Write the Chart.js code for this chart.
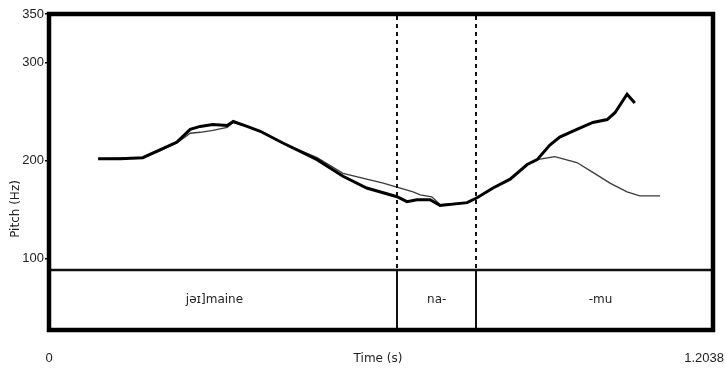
<!DOCTYPE html>
<html>
<head>
<meta charset="utf-8">
<script src="https://cdn.jsdelivr.net/npm/chart.js@4/dist/chart.umd.min.js"></script>
<style>
  html, body { margin: 0; padding: 0; background: #fff; }
  #wrap { width: 726px; height: 370px; }
</style>
</head>
<body>
<div id="wrap"><canvas id="chart" width="726" height="370"></canvas></div>
<script>
// pitch tracks, time in seconds / pitch in Hz
const thickTime = [0.089, 0.129, 0.170, 0.201, 0.232, 0.256, 0.274, 0.297, 0.323, 0.334, 0.359, 0.383, 0.424, 0.486, 0.533, 0.576, 0.631, 0.649, 0.667, 0.691, 0.709, 0.758, 0.776, 0.805, 0.836, 0.867, 0.885, 0.908, 0.926, 0.957, 0.986, 1.012, 1.026, 1.048, 1.062]
const thickPitch = [202, 202, 203, 211, 219, 232, 235, 237, 236, 240, 235, 230, 218, 201, 184, 172, 163, 158, 160, 160, 154, 157, 162, 172, 181, 196, 201, 216, 224, 232, 239, 242, 249, 268, 259]

const thinTime = [0.089, 0.170, 0.201, 0.232, 0.256, 0.274, 0.297, 0.323, 0.334, 0.359, 0.383, 0.424, 0.486, 0.533, 0.606, 0.660, 0.673, 0.694, 0.709, 0.758, 0.776, 0.805, 0.836, 0.867, 0.885, 0.917, 0.957, 0.986, 1.017, 1.048, 1.071, 1.108]
const thinPitch = [202, 203, 210, 218, 228, 229, 231, 234, 239, 235, 230, 218, 203, 187, 177, 168, 165, 163, 155, 157, 162, 172, 181, 196, 201, 204, 198, 188, 177, 168, 164, 164]

// annotation tier
const tierBounds = [0.631, 0.774]
const tierLabels = ['jəɪ]maine', 'na-', '-mu']
const tierCenters = [0.30, 0.703, 1.0]

const yTicks = [100, 200, 300, 350]
const xTicks = [0, 1.2038]
const tierLineHz = 88

const toPoints = (xs, ys) => xs.map((x, i) => ({x: x, y: ys[i]}))

const framePlugin = {
  id: 'frame',
  afterDatasetsDraw (chart) {
    const ctx = chart.ctx
    const a = chart.chartArea
    const xs = chart.scales.x
    const ys = chart.scales.y
    const tierY = ys.getPixelForValue(tierLineHz)
    ctx.save()

    // boundaries: dashed in pitch panel, solid in tier
    ctx.strokeStyle = '#111'
    ctx.lineWidth = 2
    tierBounds.forEach((t) => {
      const px = Math.round(xs.getPixelForValue(t))
      ctx.setLineDash([4, 4])
      ctx.beginPath()
      ctx.moveTo(px, a.top + 2)
      ctx.lineTo(px, tierY)
      ctx.stroke()
      ctx.setLineDash([])
      ctx.beginPath()
      ctx.moveTo(px, tierY)
      ctx.lineTo(px, a.bottom)
      ctx.stroke()
    })

    // tier separator
    ctx.lineWidth = 2.5
    ctx.beginPath()
    ctx.moveTo(a.left, tierY)
    ctx.lineTo(a.right, tierY)
    ctx.stroke()

    // tier labels
    ctx.fillStyle = '#222'
    ctx.font = '12px "DejaVu Sans"'
    ctx.textAlign = 'center'
    ctx.textBaseline = 'middle'
    const midY = (tierY + a.bottom) / 2
    tierLabels.forEach((lab, i) => {
      ctx.fillText(lab, xs.getPixelForValue(tierCenters[i]), midY)
    })

    // outer frame
    ctx.lineWidth = 4.5
    ctx.strokeStyle = '#000'
    ctx.strokeRect(a.left, a.top, a.right - a.left, a.bottom - a.top)

    // x labels
    ctx.fillStyle = '#222'
    ctx.font = '13px "Liberation Sans"'
    ctx.textBaseline = 'alphabetic'
    ctx.textAlign = 'center'
    ctx.fillText('0', xs.getPixelForValue(xTicks[0]), 362)
    ctx.textAlign = 'right'
    ctx.fillText(String(xTicks[1]), 724, 362)
    ctx.textAlign = 'center'
    ctx.font = '12px "DejaVu Sans"'
    ctx.fillText('Time (s)', 378, 362)

    // y title
    ctx.translate(16, 209)
    ctx.rotate(-Math.PI / 2)
    ctx.font = '12px "DejaVu Sans"'
    ctx.textBaseline = 'middle'
    ctx.fillText('Pitch (Hz)', 0, 0)
    ctx.restore()
  }
}

const chart = new Chart('chart', {
  type: 'scatter',
  data: {
    datasets: [{
      data: toPoints(thickTime, thickPitch),
      borderColor: '#000',
      borderWidth: 3,
      showLine: true,
      pointRadius: 0,
      order: 1
    }, {
      data: toPoints(thinTime, thinPitch),
      borderColor: '#3a3a3a',
      borderWidth: 1.3,
      showLine: true,
      pointRadius: 0,
      order: 2
    }]
  },
  options: {
    responsive: false,
    animation: false,
    layout: {padding: {top: 14, right: 13, left: 0, bottom: 0}},
    plugins: {legend: {display: false}, tooltip: {enabled: false}},
    scales: {
      x: {
        type: 'linear',
        min: 0,
        max: 1.2038,
        grid: {display: false},
        border: {display: false},
        ticks: {display: false},
        afterFit (scale) { scale.height = 40 }
      },
      y: {
        type: 'linear',
        min: 26.7,
        max: 350,
        afterBuildTicks (scale) { scale.ticks = yTicks.map((v) => ({value: v})) },
        afterFit (scale) { scale.width = 49 },
        grid: {drawOnChartArea: false, tickLength: 4, color: '#000', lineWidth: 1.5},
        border: {display: false},
        ticks: {color: '#222', font: {family: 'Liberation Sans', size: 13}, padding: 1}
      }
    }
  },
  plugins: [framePlugin]
})
</script>
</body>
</html>
